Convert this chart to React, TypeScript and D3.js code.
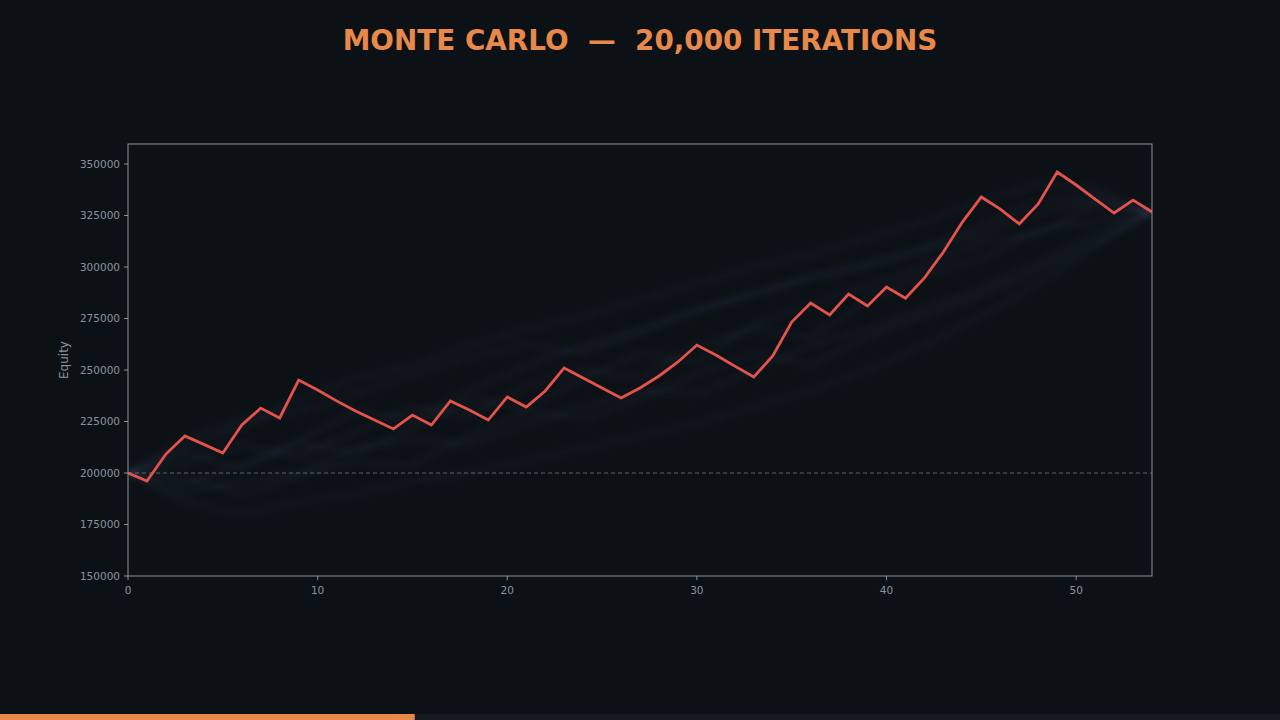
import React from "react";
import * as d3 from "d3";

const steps: number[] = d3.range(0, 55);
const equity: number[] = [
  200000, 196100, 209200, 218000, 213900, 209700, 223300, 231500, 226700, 245100,
  240300, 235000, 230100, 225700, 221400, 228100, 223300, 235000, 230600, 225700,
  236900, 232000, 239800, 251000, 246100, 241300, 236400, 241300, 247100, 253900,
  262100, 257300, 251900, 246600, 256800, 273300, 282500, 276700, 286900, 281100,
  290300, 284900, 294700, 307300, 321800, 334000, 328100, 320900, 330600, 346100,
  339800, 333000, 326200, 332500, 326700,
];

// faint sample of simulated paths (sparse keypoints)
const simSteps: number[] = [0, 3, 6, 9, 12, 15, 18, 21, 24, 27, 30, 33, 36, 39, 42, 45, 48, 51, 54];
const sim1 = [200000, 212000, 222000, 236000, 246000, 252000, 262000, 270000, 276000, 284000, 292000, 300000, 306000, 314000, 322000, 332000, 340000, 338000, 326700];
const sim2 = [200000, 186000, 180000, 186000, 190000, 196000, 200000, 206000, 212000, 218000, 224000, 232000, 240000, 250000, 262000, 276000, 292000, 310000, 326700];
const sim3 = [200000, 205000, 214000, 208000, 220000, 232000, 228000, 242000, 250000, 246000, 262000, 270000, 266000, 284000, 296000, 304000, 318000, 322000, 326700];
const sim4 = [200000, 194000, 204000, 214000, 210000, 222000, 236000, 232000, 246000, 258000, 254000, 272000, 282000, 290000, 300000, 312000, 316000, 330000, 326700];
const sim5 = [200000, 210000, 202000, 216000, 230000, 226000, 240000, 252000, 262000, 270000, 280000, 286000, 296000, 302000, 310000, 320000, 332000, 334000, 326700];
const sim6 = [200000, 190000, 196000, 200000, 212000, 216000, 214000, 224000, 232000, 240000, 238000, 250000, 262000, 270000, 280000, 290000, 302000, 316000, 326700];
const sim7 = [200000, 216000, 226000, 230000, 238000, 248000, 256000, 262000, 258000, 268000, 278000, 288000, 294000, 300000, 308000, 316000, 326000, 332000, 326700];
const sim8 = [200000, 198000, 190000, 198000, 206000, 204000, 218000, 230000, 226000, 236000, 248000, 258000, 252000, 266000, 276000, 286000, 298000, 312000, 326700];
const simPaths = [sim1, sim2, sim3, sim4, sim5, sim6, sim7, sim8];

const yTicks: number[] = [150000, 175000, 200000, 225000, 250000, 275000, 300000, 325000, 350000];
const xTicks: number[] = [0, 10, 20, 30, 40, 50];
const startEquity = 200000;
const title = "MONTE CARLO  \u2014  20,000 ITERATIONS";
const yLabel = "Equity";
const progress = 0.324;

const W = 1280, H = 720;
const M = { left: 128, right: 1152, top: 144, bottom: 576 };
const BG = "#0c1116";
const AXIS = "#8b949e";
const FONT = "DejaVu Sans, sans-serif";

export default function App() {
  const x = d3.scaleLinear().domain([0, 54]).range([M.left, M.right]);
  const y = d3.scaleLinear().domain([150000, 359709]).range([M.bottom, M.top]);
  const line = d3.line<number>().x((_, i) => x(steps[i])).y((d) => y(d));
  const simLine = (arr: number[]) =>
    d3.line<number>().x((_, i) => x(simSteps[i])).y((d) => y(d))(arr) || "";

  return (
    <svg width={W} height={H} style={{ position: "fixed", left: 0, top: 0, background: BG }}>
      <rect x={0} y={0} width={W} height={H} fill={BG} />
      <text x={640} y={50} textAnchor="middle" fill="#e8894a" fontFamily={FONT} fontWeight="bold" fontSize={27.8} style={{ whiteSpace: "pre" }}>
        {title}
      </text>
      <defs>
        <clipPath id="plot">
          <rect x={M.left} y={M.top} width={M.right - M.left} height={M.bottom - M.top} />
        </clipPath>
        <filter id="soft" x="-5%" y="-5%" width="110%" height="110%">
          <feGaussianBlur stdDeviation="3" />
        </filter>
      </defs>
      <g clipPath="url(#plot)">
        <g filter="url(#soft)">
          {simPaths.map((p, i) => (
            <path key={i} d={simLine(p)} fill="none" stroke="#8fb3e0" strokeOpacity={0.04} strokeWidth={6} />
          ))}
        </g>
        {simPaths.map((p, i) => (
          <path key={"t" + i} d={simLine(p)} fill="none" stroke="#8fb3e0" strokeOpacity={0.018} strokeWidth={0.8} />
        ))}
        <line x1={M.left} x2={M.right} y1={y(startEquity)} y2={y(startEquity)} stroke="#a0a6ad" strokeOpacity={0.7} strokeWidth={0.8} strokeDasharray="4,3" />
        <path d={line(equity) || ""} fill="none" stroke="#e5534b" strokeWidth={2.8} strokeLinejoin="miter" />
      </g>
      <rect x={M.left} y={M.top} width={M.right - M.left} height={M.bottom - M.top} fill="none" stroke="#9aa0a6" strokeWidth={0.9} />
      {yTicks.map((t) => (
        <g key={t}>
          <line x1={M.left - 4} x2={M.left} y1={y(t)} y2={y(t)} stroke="#9aa0a6" strokeWidth={0.9} />
          <text x={M.left - 8} y={y(t)} dy="0.35em" textAnchor="end" fill={AXIS} fontFamily={FONT} fontSize={10.5}>
            {t}
          </text>
        </g>
      ))}
      {xTicks.map((t) => (
        <g key={t}>
          <line x1={x(t)} x2={x(t)} y1={M.bottom} y2={M.bottom + 4} stroke="#9aa0a6" strokeWidth={0.9} />
          <text x={x(t)} y={M.bottom + 18} textAnchor="middle" fill={AXIS} fontFamily={FONT} fontSize={10.5}>
            {t}
          </text>
        </g>
      ))}
      <text transform={`translate(68,${(M.top + M.bottom) / 2}) rotate(-90)`} textAnchor="middle" fill={AXIS} fontFamily={FONT} fontSize={12}>
        {yLabel}
      </text>
      <rect x={0} y={714} width={W} height={6} fill="#161b22" />
      <rect x={0} y={714} width={W * progress} height={6} fill="#e8894a" />
    </svg>
  );
}
